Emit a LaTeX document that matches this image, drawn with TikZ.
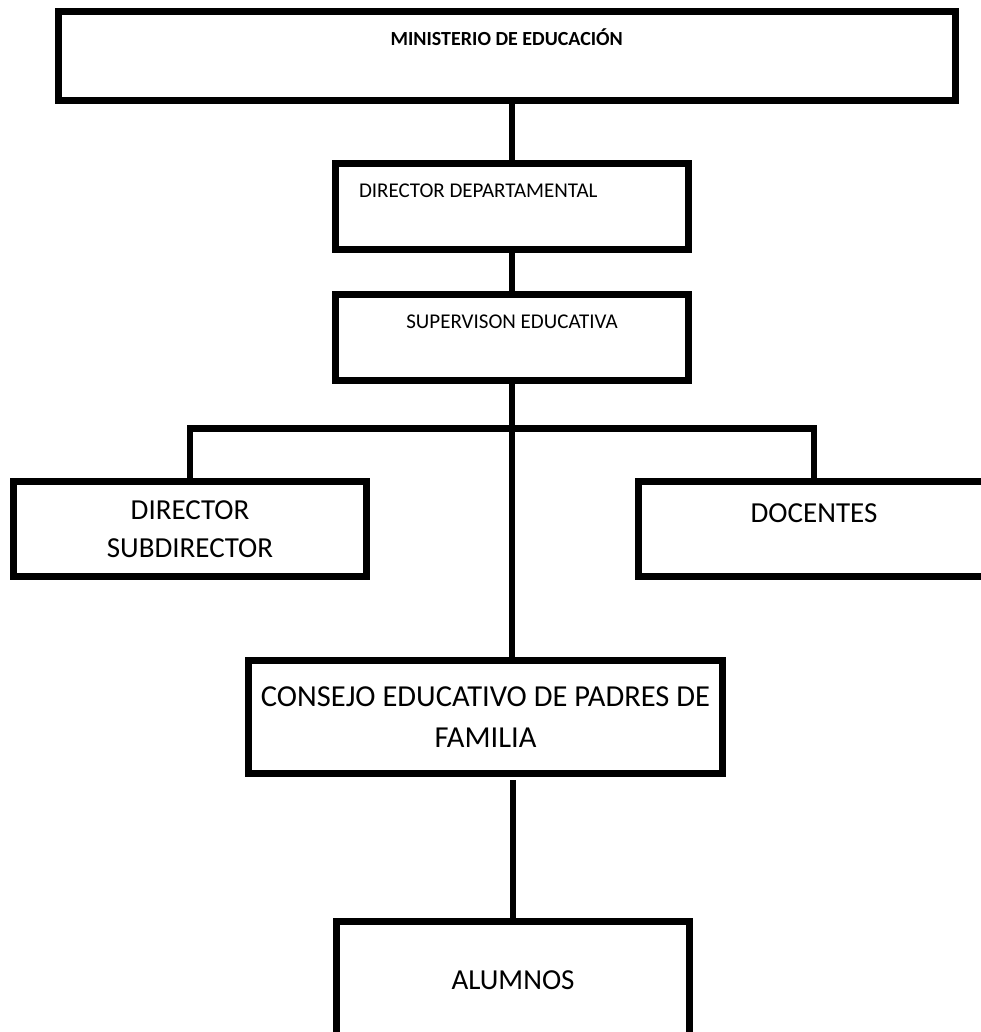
\documentclass[tikz,border=0pt]{standalone}
\usepackage{fontspec}
\setmainfont{Carlito}
\begin{document}
\begin{tikzpicture}[x=1pt,y=-1pt]
        \tikzstyle{caja}=[draw,line width=7pt,inner sep=0pt,align=center,font=\fontsize{29}{38}\selectfont]
        \tikzstyle{chica}=[font=\fontsize{21}{25}\selectfont]
        \tikzstyle{linea}=[line width=6.5pt]
        \useasboundingbox (0,0) rectangle (981,1032);
        \clip (0,0) rectangle (981,1032);
        \node[caja,font=\bfseries\fontsize{20}{24}\selectfont,minimum width=896.5pt,minimum height=89.5pt,text height=12.9pt,text depth=34pt] (min) at (506.75,56.25) {MINISTERIO DE EDUCACIÓN};
        \node[caja,chica,minimum width=353pt,minimum height=85pt,text width=306pt,align=flush left,text height=13.5pt,text depth=31pt] (dep) at (512,206.5) {DIRECTOR DEPARTAMENTAL};
        \node[caja,chica,minimum width=353pt,minimum height=86pt,text height=13.5pt,text depth=30pt] (sup) at (512,337) {SUPERVISON EDUCATIVA};
        \node[caja,minimum width=353pt,minimum height=95pt] (dir) at (190,529) {DIRECTOR\\SUBDIRECTOR};
        \node[caja,minimum width=351pt,minimum height=95pt,text height=18.7pt,text depth=32pt] (doc) at (814,529) {DOCENTES};
        \node[caja,font=\fontsize{30.5}{41}\selectfont,minimum width=474pt,minimum height=113.5pt] (con) at (485.5,716.75) {CONSEJO EDUCATIVO DE PADRES DE\\FAMILIA};
        \node[caja,minimum width=353.5pt,minimum height=118pt] (alu) at (513,980.5) {ALUMNOS};
        \coordinate (barra) at (512,428.5);
        \draw[linea] (min.south -| dep.north) -- (dep.north);
        \draw[linea] (dep) -- (sup);
        \draw[linea] (sup.south) -- (sup.south |- con.north);
        \draw[linea] (dir.north) |- (barra) -| (doc.north);
        \draw[linea,shorten <=3pt] (con.south -| alu.north) -- (alu.north);
    \end{tikzpicture}
\end{document}
